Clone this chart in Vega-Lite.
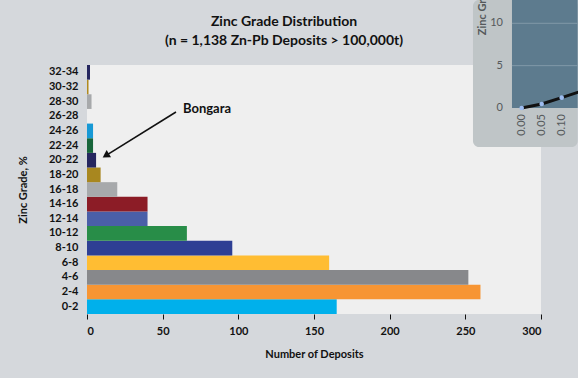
{
  "$schema": "https://vega.github.io/schema/vega-lite/v6.json",
  "width": 454,
  "height": 249,
  "autosize": {"type": "none"},
  "padding": {"left": 87, "top": 65, "right": 37, "bottom": 64},
  "background": "#d5d8dc",
  "config": {
    "view": {"fill": "#efefef", "stroke": null},
    "font": "Lato",
    "axis": {"labelFont": "Lato", "titleFont": "Lato", "labelColor": "#111111", "titleColor": "#111111"}
  },
  "title": {
    "text": ["Zinc Grade Distribution", "(n = 1,138 Zn-Pb Deposits > 100,000t)"],
    "font": "Lato",
    "fontSize": 14,
    "fontWeight": "bold",
    "color": "#111111",
    "anchor": "middle",
    "frame": "group",
    "dx": -30,
    "lineHeight": 19,
    "offset": -54
  },
  "datasets": {
    "grades": [
      {"grade": "0-2", "deposits": 165},
      {"grade": "2-4", "deposits": 260},
      {"grade": "4-6", "deposits": 252},
      {"grade": "6-8", "deposits": 160},
      {"grade": "8-10", "deposits": 96},
      {"grade": "10-12", "deposits": 66},
      {"grade": "12-14", "deposits": 40},
      {"grade": "14-16", "deposits": 40},
      {"grade": "16-18", "deposits": 20},
      {"grade": "18-20", "deposits": 9},
      {"grade": "20-22", "deposits": 6},
      {"grade": "22-24", "deposits": 4},
      {"grade": "24-26", "deposits": 4},
      {"grade": "26-28", "deposits": 0},
      {"grade": "28-30", "deposits": 3},
      {"grade": "30-32", "deposits": 1},
      {"grade": "32-34", "deposits": 2}
    ],
    "inset": [
      {"t": 0.0, "z": 0.0},
      {"t": 0.05, "z": 0.47},
      {"t": 0.1, "z": 1.22},
      {"t": 0.15, "z": 2.0}
    ],
    "insetTicks": [
      {"v": 0, "lab": "0"},
      {"v": 5, "lab": "5"},
      {"v": 10, "lab": "10"}
    ],
    "insetXTicks": [
      {"v": 0, "lab": "0.00"},
      {"v": 0.05, "lab": "0.05"},
      {"v": 0.1, "lab": "0.10"}
    ]
  },
  "resolve": {"scale": {"x": "independent", "y": "independent"}},
  "layer": [
    {
      "data": {"name": "grades"},
      "mark": {"type": "bar"},
      "encoding": {
        "y": {
          "field": "grade",
          "type": "nominal",
          "sort": ["32-34", "30-32", "28-30", "26-28", "24-26", "22-24", "20-22", "18-20", "16-18", "14-16", "12-14", "10-12", "8-10", "6-8", "4-6", "2-4", "0-2"],
          "scale": {"paddingInner": 0, "paddingOuter": 0},
          "title": "Zinc Grade, %",
          "axis": {
            "ticks": false,
            "domain": false,
            "labelPadding": 9,
            "labelFontSize": 11,
            "labelFontWeight": "bold",
            "titleFontSize": 11,
            "titleFontWeight": "bold",
            "titlePadding": 20
          }
        },
        "x": {
          "field": "deposits",
          "type": "quantitative",
          "scale": {"domain": [0, 300], "nice": false},
          "title": "Number of Deposits",
          "axis": {
            "values": [0, 50, 100, 150, 200, 250, 300],
            "grid": false,
            "domain": false,
            "ticks": true,
            "tickColor": "#111111",
            "tickSize": 5,
            "labelPadding": 6,
            "labelFontSize": 11,
            "labelFontWeight": "bold",
            "titleFontSize": 11,
            "titleFontWeight": "bold",
            "titlePadding": 12
          }
        },
        "color": {
          "field": "grade",
          "type": "nominal",
          "legend": null,
          "scale": {
            "domain": ["0-2", "2-4", "4-6", "6-8", "8-10", "10-12", "12-14", "14-16", "16-18", "18-20", "20-22", "22-24", "24-26", "26-28", "28-30", "30-32", "32-34"],
            "range": ["#00b0eb", "#f79533", "#87888b", "#ffbd33", "#2e3f94", "#288d48", "#4a5fa8", "#8c1c26", "#a7a9ab", "#a8871f", "#25265f", "#17653a", "#1799d5", "#cccccc", "#a7a9ab", "#b08a1e", "#25265f"]
          }
        }
      }
    },
    {
      "data": {"values": [{}]},
      "layer": [
        {
          "mark": {"type": "rule", "color": "#111111", "strokeWidth": 1.6},
          "encoding": {
            "x": {"datum": 58.8, "type": "quantitative", "scale": {"domain": [0, 300], "nice": false}, "axis": null},
            "x2": {"datum": 12.4},
            "y": {"datum": 27.58, "type": "quantitative", "scale": {"domain": [0, 34], "nice": false}, "axis": null},
            "y2": {"datum": 21.63}
          }
        },
        {
          "mark": {"type": "point", "shape": "triangle-up", "filled": true, "color": "#111111", "opacity": 1, "size": 70, "angle": 238},
          "encoding": {
            "x": {"datum": 12.4, "type": "quantitative"},
            "y": {"datum": 21.63, "type": "quantitative"}
          }
        },
        {
          "mark": {"type": "text", "text": "Bongara", "align": "left", "baseline": "middle", "fontWeight": "bold", "fontSize": 13, "color": "#111111"},
          "encoding": {
            "x": {"datum": 63.4, "type": "quantitative"},
            "y": {"datum": 28.0, "type": "quantitative"}
          }
        }
      ]
    },
    {
      "layer": [
        {
          "data": {"values": [{}]},
          "mark": {"type": "rect", "color": "#bfc5c7", "cornerRadius": 6},
          "encoding": {
            "x": {"datum": -0.1218, "type": "quantitative", "scale": {"domain": [0, 0.1], "range": [434.7, 474.7], "nice": false, "zero": false}, "axis": null},
            "x2": {"datum": 0.14},
            "y": {"datum": -4.6, "type": "quantitative", "scale": {"domain": [0, 10], "range": [43, -41.7], "nice": false, "zero": false}, "axis": null},
            "y2": {"datum": 12.75}
          }
        },
        {
          "data": {"values": [{}]},
          "mark": {"type": "rect", "color": "#5d7b8e"},
          "encoding": {
            "x": {"datum": -0.0243, "type": "quantitative"},
            "x2": {"datum": 0.14},
            "y": {"datum": 0, "type": "quantitative"},
            "y2": {"datum": 12.75}
          }
        },
        {
          "data": {"name": "insetTicks"},
          "transform": [{"filter": "datum.v > 0"}],
          "mark": {"type": "rule", "color": "#8199a8", "strokeWidth": 1},
          "encoding": {
            "x": {"datum": -0.0243, "type": "quantitative"},
            "x2": {"datum": 0.14},
            "y": {"field": "v", "type": "quantitative"}
          }
        },
        {
          "data": {"name": "insetTicks"},
          "mark": {"type": "text", "align": "right", "baseline": "middle", "fontSize": 11, "color": "#55595b"},
          "encoding": {
            "x": {"datum": -0.0468, "type": "quantitative"},
            "y": {"field": "v", "type": "quantitative"},
            "text": {"field": "lab"}
          }
        },
        {
          "data": {"name": "insetXTicks"},
          "mark": {"type": "text", "align": "right", "baseline": "middle", "angle": 270, "fontSize": 11, "color": "#55595b"},
          "encoding": {
            "x": {"field": "v", "type": "quantitative"},
            "y": {"datum": -0.71, "type": "quantitative"},
            "text": {"field": "lab"}
          }
        },
        {
          "data": {"values": [{}]},
          "mark": {"type": "text", "text": "Zinc Grade, %", "align": "left", "baseline": "middle", "angle": 270, "fontSize": 11, "fontWeight": "bold", "color": "#55595b", "limit": 42, "ellipsis": "\u200b"},
          "encoding": {
            "x": {"datum": -0.0975, "type": "quantitative"},
            "y": {"datum": 8.6, "type": "quantitative"}
          }
        },
        {
          "data": {"name": "inset"},
          "mark": {"type": "line", "color": "#111111", "strokeWidth": 3},
          "encoding": {
            "x": {"field": "t", "type": "quantitative"},
            "y": {"field": "z", "type": "quantitative"}
          }
        },
        {
          "data": {"name": "inset"},
          "mark": {"type": "point", "filled": true, "color": "#9dbcf0", "opacity": 1, "size": 22},
          "encoding": {
            "x": {"field": "t", "type": "quantitative"},
            "y": {"field": "z", "type": "quantitative"}
          }
        }
      ]
    }
  ]
}
